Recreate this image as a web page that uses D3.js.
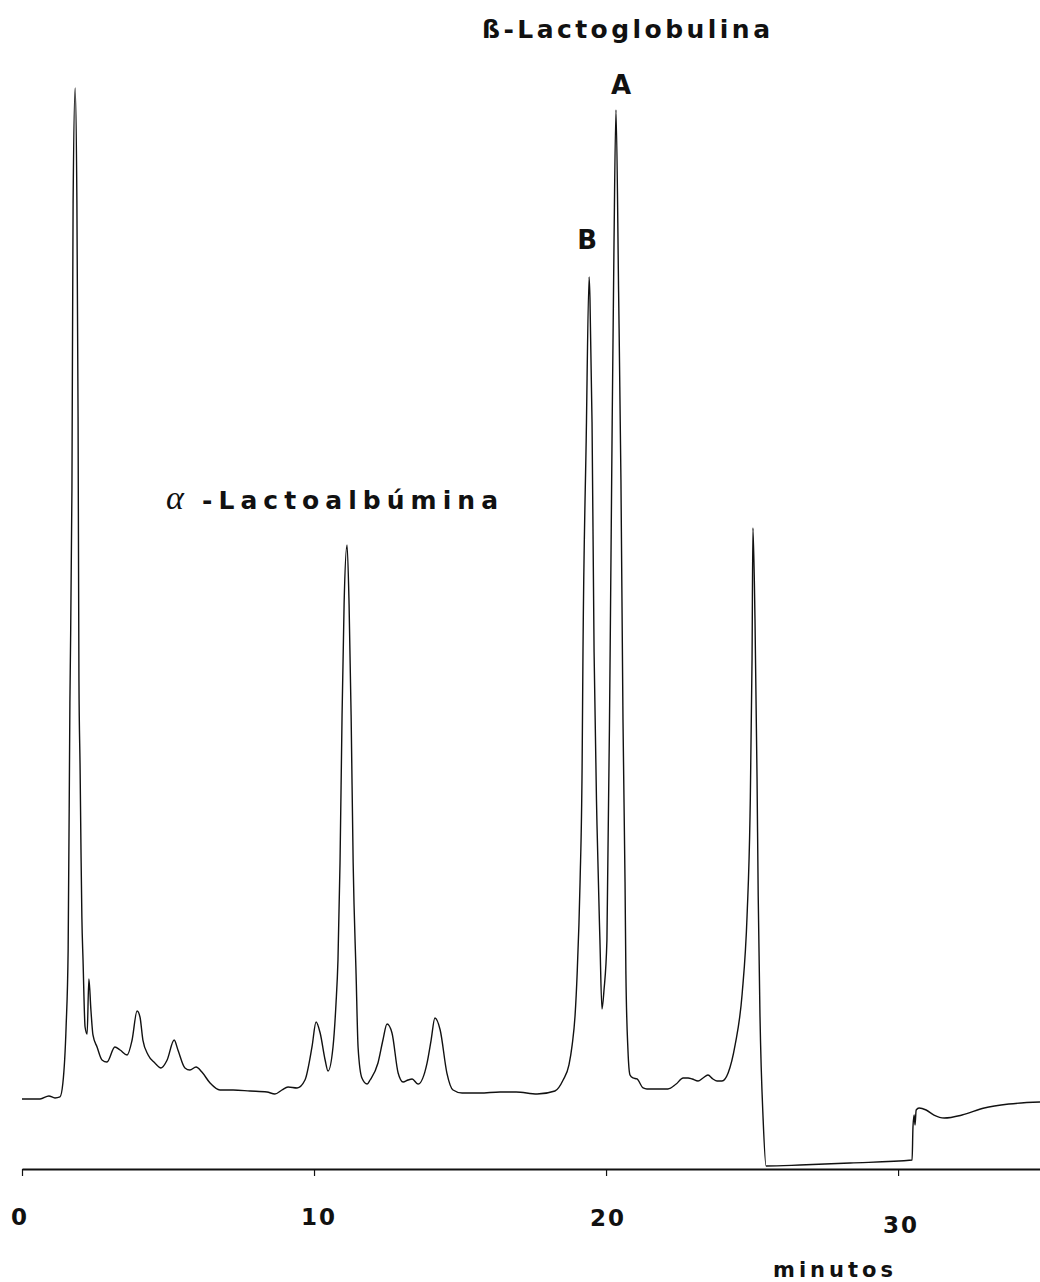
<!DOCTYPE html>
<html>
<head>
<meta charset="utf-8">
<script src="https://cdn.jsdelivr.net/npm/d3@7"></script>
<style>
  html, body { margin: 0; padding: 0; background: #fff; }
  svg { display: block; }
  .lbl { font-family: "DejaVu Sans", "Liberation Sans", Arial, sans-serif; font-weight: bold; fill: #111; }
</style>
</head>
<body>
<svg id="chart" width="1040" height="1282"></svg>
<script>
// Retention time (min) of each sampled point of the detector trace
const time = [
  0.00, 0.62, 0.92, 1.13, 1.30, 1.40, 1.51, 1.58, 1.64, 1.71, 1.75, 1.82, 1.88, 1.92, 1.95, 1.99,
  2.02, 2.05, 2.09, 2.16, 2.23, 2.29, 2.36, 2.43, 2.57, 2.74, 2.91, 3.18, 3.36, 3.60, 3.77, 3.94,
  4.04, 4.14, 4.32, 4.55, 4.76, 4.97, 5.21, 5.34, 5.58, 5.75, 5.96, 6.16, 6.44, 6.78, 7.23, 7.81,
  8.39, 8.66, 8.90, 9.11, 9.42, 9.69, 9.93, 10.07, 10.21, 10.38, 10.48, 10.65, 10.75, 10.82, 10.89,
  10.96, 11.03, 11.13, 11.20, 11.27, 11.34, 11.44, 11.51, 11.64, 11.82, 11.92, 12.19, 12.36, 12.50,
  12.67, 12.88, 13.05, 13.22, 13.36, 13.56, 13.87, 14.01, 14.14, 14.32, 14.55, 14.76, 15.07, 15.68,
  16.37, 16.92, 17.64, 18.25, 18.53, 18.73, 18.84, 18.94, 19.01, 19.11, 19.18, 19.21, 19.32, 19.42,
  19.45, 19.52, 19.59, 19.69, 19.79, 19.86, 19.93, 20.03, 20.14, 20.21, 20.27, 20.34, 20.43,
  20.51, 20.58, 20.65, 20.68, 20.75, 20.82, 20.92, 21.06, 21.27, 21.40, 22.12, 22.40, 22.64, 22.81,
  22.95, 23.15, 23.32, 23.49, 23.66, 23.80, 23.97, 24.18, 24.42, 24.66, 24.83, 24.93, 25.00, 25.03,
  25.10, 25.17, 25.21, 25.27, 25.38, 25.48, 26.64, 28.36, 30.48, 30.51, 30.55, 30.58, 30.62, 30.72,
  30.96, 31.23, 31.58, 32.19, 32.95, 33.80, 34.86
];

// Detector response (relative units, solvent front peak = 100)
const signal = [
  0.10, 0.10, 0.40, 0.20, 0.30, 1.68, 7.23, 14.85, 39.31, 60.50, 88.81, 100.20, 88.81, 67.62, 41.58, 32.67,
  24.75, 18.12, 13.86, 7.23, 6.53, 11.98, 8.91, 6.44, 5.25, 3.96, 3.76, 5.25, 4.95, 4.46, 5.94, 8.81,
  8.22, 5.94, 4.46, 3.66, 3.17, 3.96, 5.94, 4.95, 3.17, 2.97, 3.27, 2.77, 1.68, 0.99, 0.99, 0.89,
  0.79, 0.59, 0.99, 1.29, 1.19, 1.98, 5.25, 7.72, 6.63, 3.96, 2.87, 5.25, 9.41, 13.86, 23.47,
  38.12, 49.11, 54.95, 49.11, 38.12, 23.47, 12.48, 5.15, 2.18, 1.58, 1.98, 3.66, 5.94, 7.52,
  6.63, 2.67, 1.78, 1.98, 2.08, 1.58, 3.66, 5.94, 8.12, 6.93, 2.67, 0.99, 0.69, 0.69,
  0.79, 0.79, 0.59, 0.89, 1.98, 3.47, 5.45, 8.42, 12.48, 21.58, 32.97, 44.36, 65.35, 81.49,
  79.21, 67.13, 44.36, 27.23, 15.84, 9.01, 10.89, 15.84, 44.36, 67.13, 84.16, 98.02, 80.00,
  61.39, 37.62, 21.58, 12.48, 4.95, 2.48, 2.18, 2.08, 1.19, 1.09, 1.09, 1.58, 2.18, 2.18,
  2.08, 1.88, 2.18, 2.48, 2.08, 1.88, 1.88, 2.67, 5.45, 10.50, 18.32, 28.12, 43.76, 56.63,
  47.62, 31.98, 20.30, 8.51, -1.98, -6.53, -6.44, -6.24, -5.94, -2.67, -1.49, -2.48, -0.99, -0.79,
  -0.99, -1.49, -1.78, -1.49, -0.79, -0.40, -0.20
];

// Time axis ticks
const tickValues = [0, 10, 20, 30];
const axisTitle = "minutos";

// Peak annotations
const peakNames = { alpha: "-Lactoalbúmina", alphaSymbol: "α", beta: "ß-Lactoglobulina" };
const variantLabels = ["B", "A"];
const variantTimes = [19.42, 20.34];

const svg = d3.select("#chart");
svg.append("rect").attr("width", 1040).attr("height", 1282).attr("fill", "#fff");

const x = d3.scaleLinear().domain([0, 34.86]).range([22, 1040]);
const y = d3.scaleLinear().domain([0, 100]).range([1100, 90]);

const points = time.map((t, i) => [t, signal[i]]);

// chromatogram trace
const line = d3.line()
  .x(d => x(d[0]))
  .y(d => y(d[1]))
  .curve(d3.curveMonotoneX);

svg.append("path")
  .datum(points)
  .attr("d", line)
  .attr("fill", "none")
  .attr("stroke", "#111")
  .attr("stroke-width", 1.4)
  .attr("stroke-linejoin", "round");

// time axis
const axisY = 1169;
const axis = d3.axisBottom(x)
  .tickValues(tickValues)
  .tickSize(7)
  .tickSizeOuter(0)
  .tickFormat("");

const gAxis = svg.append("g")
  .attr("transform", `translate(0,${axisY})`)
  .call(axis);
gAxis.select(".domain").attr("stroke", "#111").attr("stroke-width", 2);
gAxis.selectAll(".tick line").attr("stroke", "#111").attr("stroke-width", 1.2);

const labelDrop = { 0: 0, 10: 0, 20: 1, 30: 8 };
const labelShift = { 0: -3, 10: 4, 20: 1, 30: 2 };
svg.append("g").selectAll("text")
  .data(tickValues)
  .join("text")
  .attr("class", "lbl")
  .attr("x", d => x(d) + labelShift[d])
  .attr("y", d => axisY + 56 + labelDrop[d])
  .attr("text-anchor", "middle")
  .attr("font-size", 23)
  .attr("letter-spacing", 2)
  .attr("dx", 1)
  .text(d => d);

svg.append("text")
  .attr("class", "lbl")
  .attr("x", 773)
  .attr("y", 1277)
  .attr("font-size", 21)
  .attr("textLength", 120)
  .attr("lengthAdjust", "spacing")
  .text(axisTitle);

// peak labels
svg.append("text")
  .attr("x", 166)
  .attr("y", 509)
  .attr("font-family", "'Liberation Serif', 'Times New Roman', serif")
  .attr("font-style", "italic")
  .attr("font-size", 34)
  .attr("fill", "#111")
  .text(peakNames.alphaSymbol);

svg.append("text")
  .attr("class", "lbl")
  .attr("x", 202)
  .attr("y", 509)
  .attr("font-size", 25)
  .attr("textLength", 296)
  .attr("lengthAdjust", "spacing")
  .text(peakNames.alpha);

svg.append("text")
  .attr("class", "lbl")
  .attr("x", 482)
  .attr("y", 38)
  .attr("font-size", 25)
  .attr("textLength", 288)
  .attr("lengthAdjust", "spacing")
  .text(peakNames.beta);

const variantY = [249, 94];
const variantDx = [-2, 5];
svg.append("g").selectAll("text")
  .data(variantLabels)
  .join("text")
  .attr("class", "lbl")
  .attr("x", (d, i) => x(variantTimes[i]) + variantDx[i])
  .attr("y", (d, i) => variantY[i])
  .attr("text-anchor", "middle")
  .attr("font-size", 26)
  .text(d => d);
</script>
</body>
</html>
